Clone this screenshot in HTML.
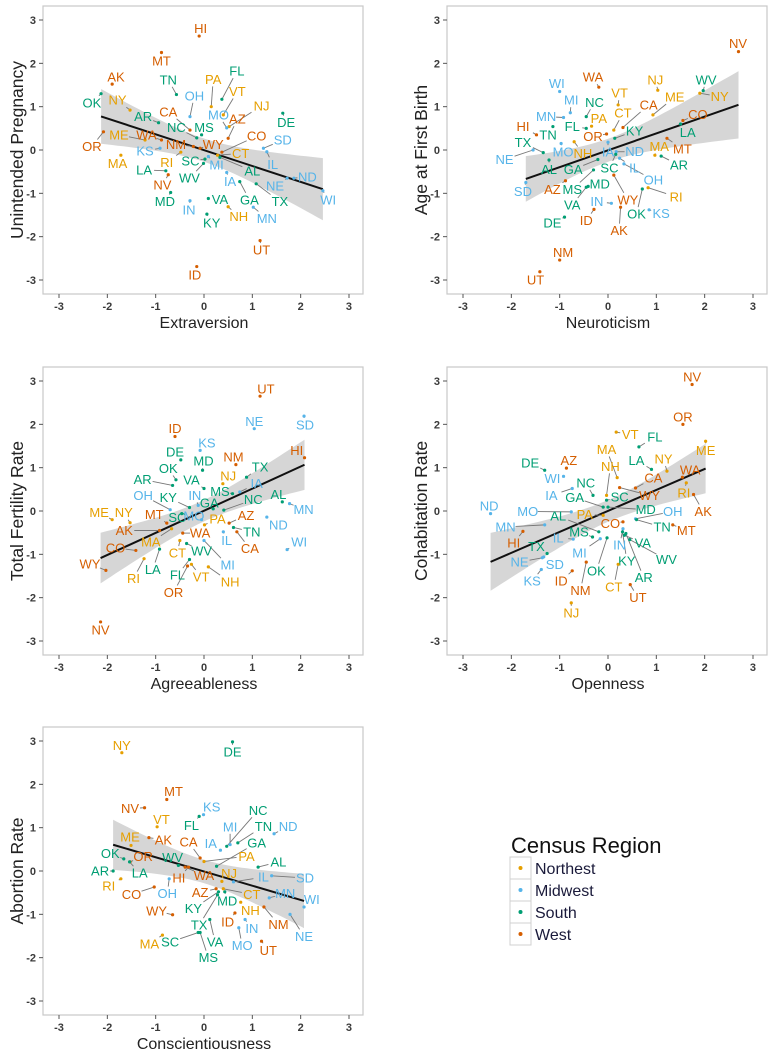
<!DOCTYPE html>
<html><head><meta charset="utf-8"><style>
body{margin:0;background:#fff;}
svg{display:block;font-family:"Liberation Sans",Arial,sans-serif;}
</style></head><body>
<svg id="chart" width="775" height="1050" viewBox="0 0 775 1050" xmlns="http://www.w3.org/2000/svg"></svg>
<script>
const northeast=["CT","ME","MA","NH","RI","VT","NJ","NY","PA"];
const midwest=["IL","IN","MI","OH","WI","IA","KS","MN","MO","NE","ND","SD"];
const south=["DE","FL","GA","MD","NC","SC","VA","WV","AL","KY","MS","TN","AR","LA","OK","TX"];
const west=["AZ","CO","ID","MT","NV","NM","UT","WY","AK","CA","HI","OR","WA"];
const regionNames=["Northest","Midwest","South","West"];
const regionColors=["#E69F00","#56B4E9","#009E73","#D55E00"];
const tickVals=[-3,-2,-1,0,1,2,3];

const p1States=["HI","MT","AK","TN","FL","PA","OK","NY","OH","VT","NJ","MO","CA","AZ","DE","AR","NC","MS","CO","SD","ME","WA","OR","NM","WY","KS","CT","RI","SC","MA","IL","MI","AL","LA","ND","NV","WV","IA","NE","GA","TX","WI","MD","VA","IN","NH","MN","KY","UT","ID"];
const p1X=[-0.1,-0.88,-1.9,-0.57,0.37,0.15,-2.13,-1.53,-0.29,0.4,0.52,0.47,-0.29,0.5,1.63,-0.94,-0.15,-0.05,0.37,1.23,-1.22,-0.88,-2.08,-0.22,-0.08,-0.91,0.28,-0.48,0.02,-1.72,1.3,0.09,0.33,-0.79,1.86,-0.74,-0.01,0.47,1.72,0.74,1.08,2.46,-0.69,0.09,-0.29,0.5,1.02,0.06,1.16,-0.15];
const p1Y=[2.63,2.25,1.52,1.28,1.17,1.0,1.3,0.92,0.77,0.81,0.54,0.51,0.46,0.27,0.85,0.63,0.28,0.35,-0.05,0.04,0.23,0.23,0.42,0.08,0.04,0.04,-0.12,-0.05,-0.21,-0.12,-0.04,-0.15,-0.17,-0.48,-0.65,-0.57,-0.31,-0.52,-0.65,-0.73,-0.78,-0.94,-0.98,-1.12,-1.17,-1.31,-1.32,-1.48,-2.09,-2.69];
const p1LX=[-0.07,-0.88,-1.82,-0.74,0.68,0.19,-2.32,-1.79,-0.2,0.69,1.19,0.3,-0.74,0.69,1.7,-1.26,-0.57,0,1.09,1.63,-1.76,-1.19,-2.32,-0.58,0.19,-1.22,0.76,-0.77,-0.28,-1.79,1.42,0.26,1.0,-1.24,2.14,-0.86,-0.3,0.54,1.47,0.94,1.57,2.57,-0.81,0.33,-0.31,0.72,1.3,0.16,1.19,-0.19];
const p1LY=[2.8,2.05,1.69,1.62,1.82,1.63,1.09,1.15,1.25,1.35,1.02,0.81,0.88,0.71,0.63,0.77,0.52,0.52,0.32,0.23,0.35,0.35,0.08,0.13,0.13,-0.02,-0.08,-0.29,-0.25,-0.31,-0.33,-0.35,-0.48,-0.46,-0.62,-0.81,-0.65,-0.73,-0.83,-1.15,-1.19,-1.15,-1.19,-1.14,-1.38,-1.54,-1.58,-1.68,-2.31,-2.88];

const p2States=["NV","WA","WI","NJ","WV","NY","VT","MI","ME","NC","CA","MN","CT","PA","CO","HI","TN","FL","KY","OR","LA","TX","MO","NH","IA","ND","MA","MT","NE","AR","IL","AL","GA","SC","OH","SD","AZ","MS","MD","WY","RI","VA","IN","OK","KS","ID","DE","AK","NM","UT"];
const p2X=[2.7,-0.19,-1.0,1.03,1.97,1.9,0.21,-0.78,0.93,-0.45,0.31,-0.92,0.12,-0.34,1.55,-1.48,-1.14,-0.45,0.14,-0.03,1.5,-1.34,-0.97,-0.7,0,0.17,0.97,1.22,-1.55,1.1,0.24,-1.22,-0.21,0.16,0.33,-1.7,-0.88,-0.3,-0.41,0.12,0.83,-0.45,0.07,0.71,0.85,-0.29,-0.9,0.26,-1.0,-1.41];
const p2Y=[2.27,1.45,1.35,1.38,1.37,1.31,1.04,0.86,0.81,0.77,0.52,0.75,0.46,0.55,0.68,0.35,0.54,0.5,0.27,0.37,0.6,-0.06,0.15,0.19,0.18,-0.04,-0.12,0.27,0,-0.14,-0.19,-0.23,-0.22,-0.1,-0.32,-0.75,-0.71,-0.46,-0.84,-0.58,-0.87,-0.86,-1.23,-0.9,-1.38,-1.37,-1.55,-1.32,-2.54,-2.81];
const p2LX=[2.69,-0.31,-1.06,0.98,2.03,2.31,0.24,-0.76,1.38,-0.28,0.84,-1.28,0.31,-0.19,1.86,-1.76,-1.24,-0.74,0.55,-0.31,1.65,-1.76,-0.93,-0.52,0,0.55,1.06,1.54,-2.14,1.47,0.55,-1.22,-0.72,0.03,0.94,-1.76,-1.15,-0.74,-0.17,0.41,1.41,-0.74,-0.23,0.59,1.1,-0.45,-1.15,0.23,-0.93,-1.5];
const p2LY=[2.46,1.68,1.54,1.62,1.62,1.23,1.31,1.15,1.22,1.1,1.04,0.77,0.85,0.73,0.82,0.54,0.35,0.54,0.44,0.31,0.4,0.17,-0.05,-0.08,-0.05,-0.04,0.08,0.02,-0.22,-0.35,-0.42,-0.45,-0.45,-0.41,-0.69,-0.96,-0.91,-0.91,-0.78,-1.15,-1.08,-1.27,-1.19,-1.48,-1.46,-1.63,-1.68,-1.86,-2.36,-3.0];

const p3States=["UT","NE","SD","ID","KS","DE","NM","HI","MD","OK","TX","NJ","AR","VA","IA","MS","AL","MN","OH","KY","IN","GA","NC","ME","NY","MT","SC","MO","PA","AZ","ND","AK","TN","WA","MA","IL","CA","WI","CO","CT","WV","LA","MI","WY","RI","FL","VT","NH","OR","NV"];
const p3X=[1.16,1.04,2.07,-0.6,-0.08,-0.48,0.66,2.08,-0.03,-0.58,0.88,0.39,-0.65,0,0.74,0.59,1.62,1.77,-0.7,-0.3,-0.12,0.19,0.41,-1.9,-1.53,-0.77,-0.46,-0.05,0.01,0.52,1.3,-0.92,0.61,-0.44,-0.67,0.4,0.68,1.72,-1.41,-0.5,-0.36,-0.92,0,-2.03,-1.24,-0.3,-0.26,0.09,-0.34,-2.14];
const p3Y=[2.65,1.9,2.19,1.72,1.4,1.18,1.07,1.23,0.94,0.72,0.78,0.63,0.59,0.52,0.44,0.4,0.21,0.17,0.03,0.08,0.13,0.05,0.02,-0.2,-0.27,-0.28,-0.06,-0.2,-0.32,-0.28,-0.14,-0.45,-0.38,-0.51,-0.41,-0.48,-0.48,-0.89,-0.91,-0.68,-0.75,-0.88,-0.68,-1.37,-1.1,-1.12,-1.23,-1.29,-1.27,-2.56];
const p3LX=[1.28,1.04,2.09,-0.6,0.06,-0.6,0.61,1.92,-0.01,-0.74,1.16,0.5,-1.27,-0.26,1.09,0.33,1.54,2.06,-1.26,-0.74,-0.19,0.11,1.02,-2.17,-1.66,-1.03,-0.55,-0.21,0.28,0.87,1.54,-1.65,0.99,-0.08,-1.1,0.47,0.95,1.97,-1.83,-0.55,-0.05,-1.06,0.49,-2.36,-1.46,-0.55,-0.06,0.54,-0.63,-2.14];
const p3LY=[2.82,2.07,1.99,1.9,1.57,1.36,1.25,1.4,1.15,0.98,1.02,0.81,0.73,0.72,0.63,0.45,0.38,0.04,0.36,0.31,0.36,0.18,0.26,-0.04,-0.04,-0.08,-0.15,-0.12,-0.18,-0.1,-0.32,-0.45,-0.48,-0.51,-0.72,-0.68,-0.87,-0.72,-0.85,-0.97,-0.92,-1.35,-1.25,-1.22,-1.56,-1.48,-1.52,-1.64,-1.88,-2.75];

const p4States=["NV","OR","VT","FL","ME","MA","NY","DE","AZ","LA","NH","WA","WI","NC","CA","IA","RI","WY","GA","SC","AK","ND","MO","PA","MD","OH","AL","MN","CO","TN","MT","HI","MS","IL","TX","IN","VA","WV","MI","KY","NE","SD","OK","AR","KS","ID","NM","CT","UT","NJ"];
const p4X=[1.74,1.55,0.17,0.64,2.02,0.19,1.22,-1.31,-0.86,0.9,-0.03,1.54,-0.92,-0.31,0.57,-0.74,1.62,0.24,-0.1,-0.03,1.77,-2.43,-0.76,-0.1,0,0.57,-0.19,-1.31,0.31,0.59,1.34,-1.76,-0.32,-0.72,-1.26,0.31,0.34,0.45,-0.16,0.3,-1.36,-1.33,-0.02,0.37,-1.38,-0.74,-0.45,0.21,0.46,-0.76];
const p4Y=[2.92,2.0,1.82,1.48,1.61,0.77,0.92,0.94,0.99,0.96,0.36,0.78,0.8,0.36,0.53,0.52,0.65,0.54,0.09,0.25,0.38,-0.06,-0.02,-0.1,0.09,-0.18,-0.48,-0.32,-0.25,-0.2,-0.32,-0.47,-0.6,-0.65,-0.98,-0.41,-0.56,-0.66,-0.64,-0.48,-1.08,-1.06,-0.62,-0.52,-1.35,-1.38,-1.18,-1.23,-1.7,-2.12];
const p4LX=[1.74,1.55,0.46,0.97,2.02,-0.03,1.15,-1.61,-0.81,0.59,0.05,1.7,-1.15,-0.46,0.94,-1.17,1.57,0.86,-0.69,0.24,1.97,-2.46,-1.66,-0.48,0.78,1.34,-1.03,-2.12,0.05,1.12,1.62,-1.95,-0.6,-1.03,-1.48,0.24,0.72,1.21,-0.59,0.39,-1.83,-1.1,-0.24,0.74,-1.57,-0.97,-0.57,0.12,0.62,-0.76];
const p4LY=[3.09,2.17,1.77,1.71,1.4,1.42,1.2,1.11,1.17,1.17,1.03,0.95,0.75,0.65,0.76,0.36,0.42,0.36,0.31,0.32,-0.01,0.11,-0.01,-0.08,0.03,-0.01,-0.12,-0.37,-0.29,-0.37,-0.45,-0.74,-0.48,-0.62,-0.82,-0.79,-0.74,-1.12,-0.97,-1.15,-1.18,-1.23,-1.38,-1.54,-1.62,-1.62,-1.83,-1.75,-2.0,-2.35];

const p5States=["NY","DE","MT","NV","KS","NC","FL","VT","MI","TN","ND","ME","AK","CA","IA","GA","OK","OR","WV","PA","AL","AR","LA","HI","WA","NJ","IL","SD","RI","CO","OH","AZ","CT","MN","WI","KY","MD","NH","WY","ID","NM","TX","VA","IN","NE","MO","SC","MS","MA","UT"];
const p5X=[-1.7,0.59,-0.77,-1.23,-0.01,0.47,-0.1,-0.97,0.54,0.7,1.45,-1.51,-1.14,-0.08,0.34,0.26,-1.66,-1.53,-0.53,0,1.12,-1.88,-1.54,-0.32,-0.39,0.37,0.61,1.4,-1.72,-1.03,-0.72,0.25,0.4,1.35,2.07,0.3,0.43,0.76,-0.65,0.64,1.24,0.28,0.12,0.85,1.78,0.72,-0.12,-0.08,-0.86,1.19];
const p5Y=[2.73,2.98,1.65,1.46,1.3,0.57,1.26,1.02,0.61,0.65,0.86,0.59,0.77,0.3,0.48,0.11,0.28,0.21,0.13,0.22,0.09,0,0.21,0.09,0.09,-0.24,-0.25,-0.11,-0.18,-0.37,-0.18,-0.41,-0.41,-0.62,-0.83,-0.48,-0.48,-0.72,-1.01,-0.97,-0.83,-0.55,-1.12,-1.12,-1.0,-1.31,-1.42,-1.42,-1.48,-1.62];
const p5LX=[-1.7,0.59,-0.63,-1.53,0.16,1.12,-0.26,-0.88,0.54,1.23,1.74,-1.53,-0.84,-0.32,0.14,1.09,-1.94,-1.26,-0.65,0.88,1.54,-2.15,-1.33,-0.52,0,0.52,1.23,2.09,-1.97,-1.5,-0.76,-0.08,0.99,1.68,2.23,-0.22,0.48,0.96,-0.98,0.49,1.54,-0.1,0.23,0.99,2.07,0.79,-0.7,0.09,-1.13,1.33];
const p5LY=[2.9,2.75,1.84,1.44,1.48,1.4,1.05,1.19,1.02,1.03,1.03,0.78,0.72,0.67,0.63,0.65,0.4,0.34,0.31,0.34,0.21,0,-0.05,-0.16,-0.1,-0.06,-0.14,-0.16,-0.35,-0.54,-0.52,-0.5,-0.54,-0.52,-0.66,-0.87,-0.69,-0.91,-0.92,-1.18,-1.23,-1.25,-1.64,-1.33,-1.51,-1.72,-1.64,-2.0,-1.68,-1.83];

const NS="http://www.w3.org/2000/svg";
const svg=document.getElementById('chart');
function mk(tag,attrs,parent){const e=document.createElementNS(NS,tag);for(const k in attrs)e.setAttribute(k,attrs[k]);(parent||svg).appendChild(e);return e;}
function regionOf(s){if(northeast.includes(s))return 0;if(midwest.includes(s))return 1;if(south.includes(s))return 2;return 3;}

function drawPanel(id,left,top,xTitle,yTitle,states,X,Y,LX,LY){
  const ux=48.33,uy=43.33;
  const cx=left+161,cy=top+144;
  const sx=v=>cx+v*ux, sy=v=>cy-v*uy;
  const g=mk('g',{});
  
  
  const frame=mk('rect',{x:left,y:top,width:320,height:288,fill:'#fff',stroke:'#c8c8c8','stroke-width':1.2},g);
  
  
  tickVals.forEach(t=>{
    mk('line',{x1:sx(t),x2:sx(t),y1:top+288,y2:top+292,stroke:'#555','stroke-width':1},g);
    const xt=mk('text',{x:sx(t),y:top+304,'text-anchor':'middle','font-size':11,'font-weight':'bold',fill:'#3a3a3a'},g);
    xt.textContent=t;
    
    
    mk('line',{x1:left-4,x2:left,y1:sy(t),y2:sy(t),stroke:'#555','stroke-width':1},g);
    const yt=mk('text',{x:left-7,y:sy(t)+4,'text-anchor':'end','font-size':11,'font-weight':'bold',fill:'#3a3a3a'},g);
    yt.textContent=t;
    
    
  });
  const xtt=mk('text',{x:cx,y:top+322,'text-anchor':'middle','font-size':16,fill:'#222'},g);
  xtt.textContent=xTitle;
  
  
  const ytt=mk('text',{x:0,y:0,'text-anchor':'middle','font-size':17.5,fill:'#222',transform:`translate(${left-20},${cy}) rotate(-90)`},g);
  ytt.textContent=yTitle;
  
  
  const n=X.length;
  const mx=X.reduce((a,b)=>a+b,0)/n, my=Y.reduce((a,b)=>a+b,0)/n;
  let sxx=0,sxy=0;for(let i=0;i<n;i++){sxx+=(X[i]-mx)**2;sxy+=(X[i]-mx)*(Y[i]-my);}
  const b=sxy/sxx,a=my-b*mx;
  let sse=0;for(let i=0;i<n;i++){sse+=(Y[i]-a-b*X[i])**2;}
  const s=Math.sqrt(sse/(n-2)),tq=2.01;
  const x0=Math.min(...X),x1=Math.max(...X);
  const up=[],lo=[];
  for(let k=0;k<=40;k++){const xv=x0+(x1-x0)*k/40;const yh=a+b*xv;const h=tq*s*Math.sqrt(1/n+(xv-mx)**2/sxx);
    up.push(sx(xv).toFixed(1)+','+sy(yh+h).toFixed(1));lo.unshift(sx(xv).toFixed(1)+','+sy(yh-h).toFixed(1));}
  const band=mk('polygon',{points:up.concat(lo).join(' '),fill:'#999','fill-opacity':0.4},g);
  
  
  const fit=mk('line',{x1:sx(x0),y1:sy(a+b*x0),x2:sx(x1),y2:sy(a+b*x1),stroke:'#111','stroke-width':2},g);
  
  
  for(let i=0;i<n;i++){
    const px=sx(X[i]),py=sy(Y[i]),lx=sx(LX[i]),ly=sy(LY[i]);
    const dx=px-lx,dy=py-ly,hw=10,hh=7;
    const tt=Math.min(Math.abs(dx)>0?hw/Math.abs(dx):1e9,Math.abs(dy)>0?hh/Math.abs(dy):1e9);
    if(tt<0.85){
      const seg=mk('line',{x1:lx+dx*tt,y1:ly+dy*tt,x2:px,y2:py,stroke:'#777','stroke-width':0.9},g);
      
      
    }
  }
  for(let i=0;i<n;i++){
    const col=regionColors[regionOf(states[i])];
    const dot=mk('circle',{cx:sx(X[i]),cy:sy(Y[i]),r:1.6,fill:col},g);
    
    
    const lb=mk('text',{x:sx(LX[i]),y:sy(LY[i])+4.5,'text-anchor':'middle','font-size':13,fill:col},g);
    lb.textContent=states[i];
    
    
  }
}
drawPanel('extraversion',43,6,'Extraversion','Unintended Pregnancy',p1States,p1X,p1Y,p1LX,p1LY);
drawPanel('neuroticism',447,6,'Neuroticism','Age at First Birth',p2States,p2X,p2Y,p2LX,p2LY);
drawPanel('agreeableness',43,367,'Agreeableness','Total Fertility Rate',p3States,p3X,p3Y,p3LX,p3LY);
drawPanel('openness',447,367,'Openness','Cohabitation Rate',p4States,p4X,p4Y,p4LX,p4LY);
drawPanel('conscientiousness',43,727,'Conscientiousness','Abortion Rate',p5States,p5X,p5Y,p5LX,p5LY);

const lg=mk('g',{});


const lt=mk('text',{x:511,y:853,'font-size':22,fill:'#111'},lg);
lt.textContent='Census Region';


regionNames.forEach((nm,i)=>{
  const y0=857+i*22;
  const key=mk('rect',{x:510,y:y0,width:21,height:22,fill:'#fff',stroke:'#d0d0d0','stroke-width':1},lg);
  
  
  const d=mk('circle',{cx:520.5,cy:y0+11,r:2,fill:regionColors[i]},lg);
  
  
  const tx=mk('text',{x:535,y:y0+17,'font-size':16,fill:'#1a1a3a'},lg);
  tx.textContent=nm;
  
  
});
</script>
</body></html>
